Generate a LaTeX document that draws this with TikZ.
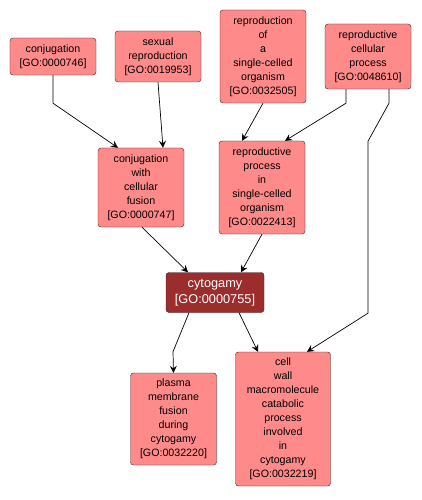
\documentclass[tikz,border=0pt]{standalone}
\usepackage{fontspec}
\setmainfont{Liberation Sans}
\usetikzlibrary{arrows.meta}

\definecolor{termfill}{HTML}{FF8A8A}
\definecolor{focusfill}{HTML}{9B2D2D}
\definecolor{termline}{HTML}{3A2020}

\begin{document}
\begin{tikzpicture}[
  x=1bp,y=-1bp,
  term/.style={draw=termline,fill=termfill,rounded corners=3bp,align=center,inner sep=0pt,
    minimum width=86bp,font=\fontsize{10.7}{14}\selectfont},
  focus/.style={term,fill=focusfill,text=white,font=\fontsize{12.8}{16}\selectfont},
  arr/.style={-{Stealth[length=7bp,width=7bp,inset=2.5bp]},line width=0.7bp}
]
\useasboundingbox (0,0) rectangle (421,500);

\node[term,minimum height=37bp] (conj) at (53,56.5) {conjugation\\{[GO:0000746]}};
\node[term,minimum height=51bp] (sexrep) at (158,56.5) {sexual\\reproduction\\{[GO:0019953]}};
\node[term,minimum height=93bp] (repsco) at (263,56.5) {reproduction\\of\\a\\single-celled\\organism\\{[GO:0032505]}};
\node[term,minimum height=65bp] (repcell) at (368,56.5) {reproductive\\cellular\\process\\{[GO:0048610]}};
\node[term,minimum height=79bp] (conjfus) at (141,187.5) {conjugation\\with\\cellular\\fusion\\{[GO:0000747]}};
\node[term,minimum height=93bp] (repproc) at (262,187.5) {reproductive\\process\\in\\single-celled\\organism\\{[GO:0022413]}};
\node[focus,minimum width=98bp,minimum height=40bp] (cyto) at (215,292.5) {cytogamy\\{[GO:0000755]}};
\node[term,minimum height=92bp] (pmfus) at (173.5,419) {plasma\\membrane\\fusion\\during\\cytogamy\\{[GO:0032220]}};
\node[term,minimum width=95bp,minimum height=134bp] (cellwall) at (283,419) {cell\\wall\\macromolecule\\catabolic\\process\\involved\\in\\cytogamy\\{[GO:0032219]}};

\draw[arr] (conj.south) -- ++(0,28) -- ([xshift=-23bp]conjfus.north);
\draw[arr] (sexrep.south) -- ([xshift=22bp]conjfus.north);
\draw[arr] (repsco.south) -- ([xshift=-20bp]repproc.north);
\draw[arr] ([xshift=-22bp]repcell.south) -- ++(0,14) -- ([xshift=23bp]repproc.north);
\draw[arr] ([xshift=21bp]repcell.south) -- ++(0,14) -- ++(-21,38) -- ++(0,172) -- ([xshift=24bp]cellwall.north);
\draw[arr] ([xshift=1bp]conjfus.south) -- ([xshift=-27bp]cyto.north);
\draw[arr] (repproc.south) -- ([xshift=26bp]cyto.north);
\draw[arr] ([xshift=-26bp]cyto.south) -- ++(-16,39) -- (pmfus.north);
\draw[arr] ([xshift=24bp]cyto.south) -- ([xshift=-25bp]cellwall.north);
\end{tikzpicture}
\end{document}
